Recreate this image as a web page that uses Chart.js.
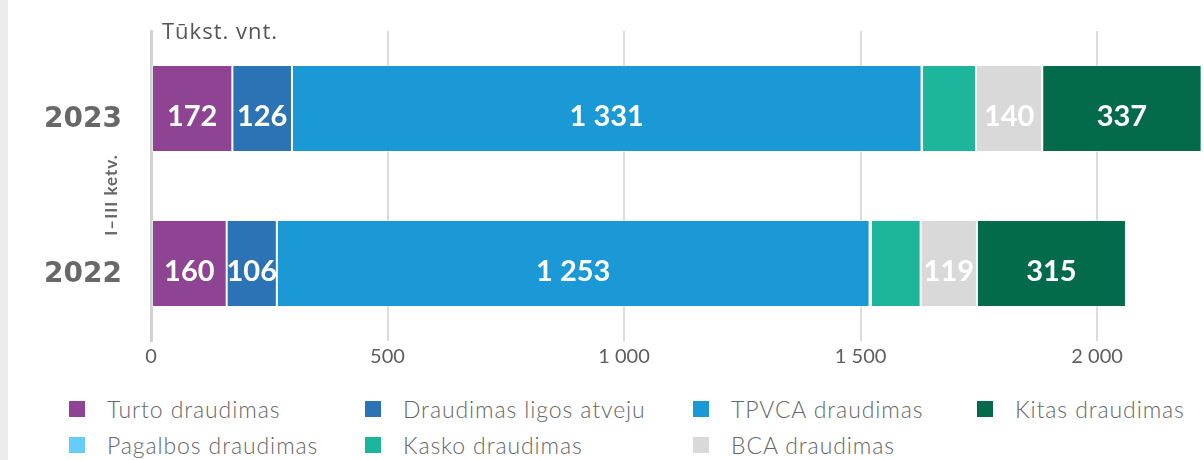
<!DOCTYPE html>
<html>
<head>
<meta charset="utf-8">
<script src="https://cdn.jsdelivr.net/npm/chart.js@4.4.0/dist/chart.umd.min.js"></script>
<style>
  body { margin: 0; width: 1204px; height: 460px; overflow: hidden; background: #fff; position: relative; }
  #strip { position: absolute; left: 0; top: 0; width: 8px; height: 460px; background: #ececec; z-index: 2; }
  #wrap { position: absolute; left: 0; top: 0; width: 1204px; height: 371px; }
  #legend { position: absolute; left: 69px; top: 397px; display: grid;
    grid-template-columns: 296px 328px 284px 200px; row-gap: 12px;
    font-family: Lato, sans-serif; font-weight: 300; font-size: 23px; letter-spacing: 0.9px; color: #666; }
  .item { display: flex; align-items: center; height: 24px; white-space: nowrap; }
  .box { width: 16px; height: 16px; margin-right: 22px; flex: none; }
</style>
</head>
<body>
<div id="strip"></div>
<div id="wrap"><canvas id="chart"></canvas></div>
<div id="legend"></div>
<script>
const years = ["2023", "2022"];

const turto = [172, 160];
const ligos = [126, 106];
const tpvca = [1331, 1253];
const pagalbos = [1, 3];
const kasko = [114, 105];
const bca = [140, 119];
const kitas = [337, 315];

const xTicks = [0, 500, 1000, 1500, 2000];
const unitLabel = "Tūkst. vnt.";
const periodLabel = "I–III ketv.";

// stacking order, left to right
const series = [
  { label: "Turto draudimas", data: turto, color: "#8e4393", show: true },
  { label: "Draudimas ligos atveju", data: ligos, color: "#2b73b5", show: true },
  { label: "TPVCA draudimas", data: tpvca, color: "#1a99d6", show: true },
  { label: "Pagalbos draudimas", data: pagalbos, color: "#66cdfb", show: false },
  { label: "Kasko draudimas", data: kasko, color: "#1db59c", show: false },
  { label: "BCA draudimas", data: bca, color: "#d9d9d9", show: true },
  { label: "Kitas draudimas", data: kitas, color: "#036b4c", show: true }
];
// legend order as in the picture
const legendOrder = [0, 1, 2, 6, 3, 4, 5];

function fmt(v, sep) {
  return String(v).replace(/\B(?=(\d{3})+(?!\d))/g, sep);
}

const extras = {
  id: "extras",
  afterDatasetsDraw(chart) {
    const ctx = chart.ctx;
    ctx.save();
    ctx.fillStyle = "#fff";
    ctx.font = "bold 29px Lato";
    ctx.textAlign = "center";
    ctx.textBaseline = "alphabetic";
    chart.data.datasets.forEach((ds, i) => {
      if (!ds.showLabel) return;
      chart.getDatasetMeta(i).data.forEach((bar, j) => {
        const p = bar.getProps(["x", "y", "base"], true);
        ctx.fillText(fmt(ds.data[j], " "), (p.x + p.base) / 2, p.y + 17);
      });
    });
    ctx.restore();
  },
  afterDraw(chart) {
    const ctx = chart.ctx;
    const a = chart.chartArea;
    ctx.save();
    ctx.fillStyle = "#555";
    ctx.font = "22px 'Open Sans'";
    ctx.letterSpacing = "1px";
    ctx.textBaseline = "alphabetic";
    ctx.fillText(unitLabel, a.left + 11, 39);
    ctx.translate(a.left - 39, (a.top + a.bottom) / 2 + 9);
    ctx.rotate(-Math.PI / 2);
    ctx.fillStyle = "#666";
    ctx.font = "bold 17px Lato";
    ctx.letterSpacing = "1px";
    ctx.textAlign = "center";
    ctx.textBaseline = "middle";
    ctx.fillText(periodLabel, 0, 0);
    ctx.restore();
  }
};

new Chart(document.getElementById("chart"), {
  type: "bar",
  data: {
    labels: years,
    datasets: series.map(s => ({
      label: s.label,
      data: s.data,
      backgroundColor: s.color,
      borderColor: "rgba(255,255,255,0.35)",
      borderWidth: 1,
      borderSkipped: false,
      showLabel: s.show,
      barPercentage: 0.56,
      categoryPercentage: 1
    }))
  },
  options: {
    indexAxis: "y",
    responsive: true,
    maintainAspectRatio: false,
    animation: false,
    layout: { padding: { top: 31, right: 0, left: 0, bottom: 0 } },
    plugins: {
      legend: { display: false },
      tooltip: { enabled: false }
    },
    scales: {
      x: {
        stacked: true,
        min: 0,
        max: 2226,
        afterBuildTicks: scale => {
          scale.ticks = xTicks.map(v => ({ value: v }));
        },
        afterFit: scale => {
          scale.height = 30;
          scale.paddingLeft = 0;
          scale.paddingRight = 0;
        },
        grid: { color: "#dcdcdc", lineWidth: 2, drawTicks: false },
        border: { display: false },
        ticks: {
          padding: 4,
          color: "#5e5e5e",
          font: { family: "Lato", size: 20 },
          callback: v => fmt(v, " ")
        }
      },
      y: {
        stacked: true,
        afterFit: scale => {
          scale.width = 151;
          scale.paddingTop = 0;
          scale.paddingBottom = 0;
        },
        grid: { display: false, drawTicks: false },
        border: { display: true, color: "#d2d2d2", width: 3 },
        ticks: {
          padding: 29,
          labelOffset: 11,
          color: "#686868",
          font: { family: "DejaVu Sans", size: 28, weight: "bold" }
        }
      }
    }
  },
  plugins: [extras]
});

const legend = document.getElementById("legend");
legendOrder.forEach(i => {
  const s = series[i];
  const item = document.createElement("div");
  item.className = "item";
  const box = document.createElement("span");
  box.className = "box";
  box.style.background = s.color;
  const txt = document.createElement("span");
  txt.textContent = s.label;
  item.appendChild(box);
  item.appendChild(txt);
  legend.appendChild(item);
});
</script>
</body>
</html>
